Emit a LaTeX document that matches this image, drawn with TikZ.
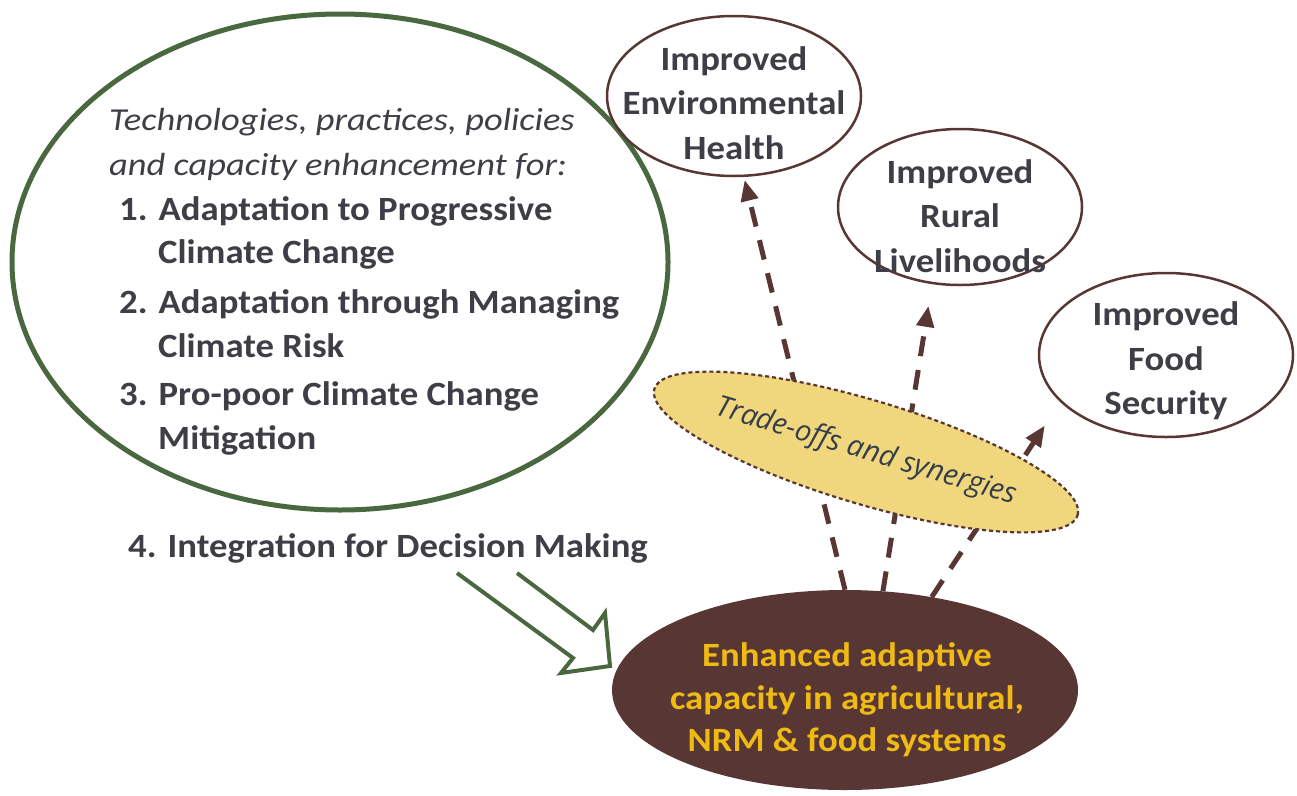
\documentclass[tikz,border=0pt]{standalone}
\usepackage{fontspec}
\setmainfont{Carlito}[FakeStretch=1.08]
\newfontfamily\itfont{Carlito}[FakeStretch=1.14]
\newfontfamily\segoe{Open Sans}
\usetikzlibrary{shapes.geometric,arrows.meta}
\definecolor{grn}{RGB}{74,104,64}
\definecolor{brn}{RGB}{87,54,52}
\definecolor{goldtxt}{RGB}{240,186,20}
\definecolor{yel}{RGB}{240,214,124}
\definecolor{txt}{RGB}{62,62,70}
\definecolor{txtb}{RGB}{52,62,74}
\begin{document}
\begin{tikzpicture}[x=1pt,y=-1pt,
  outc/.style={ellipse, draw=brn, line width=2.5pt, inner sep=0pt},
  outt/.style={align=center, text=txt, inner sep=0pt, font=\bfseries\fontsize{34}{44.5}\selectfont},
  flow/.style={brn, line width=5pt, dash pattern=on 20pt off 14pt, -{Triangle[length=21pt,width=17pt]}},
  itl/.style={anchor=base west, inner sep=0pt, text=txt, font=\itfont\itshape\fontsize{32}{44}\selectfont},
  bld/.style={anchor=base west, inner sep=0pt, text=txt, font=\bfseries\fontsize{34}{44}\selectfont}
]
\useasboundingbox (0,0) rectangle (1297,795);

% big green ellipse
\node[ellipse, draw=grn, line width=5pt, minimum width=656pt, minimum height=496pt, inner sep=0pt] (tech) at (340,262) {};
\node[itl] (t1) at (109,130) {Technologies, practices, policies};
\node[itl] (t2) at (109,175) {and capacity enhancement for:};
\node[bld] (i1) at (119,220) {1. Adaptation to Progressive};
\node[bld] (i1b) at (158,263) {Climate Change};
\node[bld] (i2) at (119,313) {2. Adaptation through Managing};
\node[bld] (i2b) at (158,357) {Climate Risk};
\node[bld] (i3) at (119,405) {3. Pro-poor Climate Change};
\node[bld] (i3b) at (158,449) {Mitigation};
\node[bld] (i4) at (128,557) {4. Integration for Decision Making};

% outcome ellipses
\node[outc, minimum width=254pt, minimum height=160pt] (env) at (734,96) {};
\node[outc, minimum width=244pt, minimum height=156pt] (rur) at (960,207) {};
\node[outc, minimum width=254pt, minimum height=164pt] (food) at (1166,355) {};
\node[outt] (envt) at (734,103) {Improved\\Environmental\\Health};
\node[outt] (rurt) at (960,216) {Improved\\Rural\\Livelihoods};
\node[outt] (foodt) at (1166,361) {Improved\\Food\\Security};

% bottom ellipse
\node[ellipse, fill=brn, minimum width=466pt, minimum height=200pt, inner sep=0pt] (bot) at (845,690) {};
\node[align=center, inner sep=0pt, text=goldtxt, font=\bfseries\fontsize{34}{42.5}\selectfont] (bott) at (847,700)
  {Enhanced adaptive\\capacity in agricultural,\\NRM \& food systems};

% dashed arrows
\draw[flow, shorten >=3pt] (bot.90) -- (env.277);
\draw[flow, shorten >=22pt] (bot.69) -- (rur.250);
\draw[flow, shorten >=28pt] (bot.47) -- (food.204);

% trade-offs ellipse
\node[ellipse, rotate=-16.6, fill=yel, draw=brn, line width=2.2pt, dash pattern=on 4pt off 3pt,
  minimum width=400pt, minimum height=104pt, inner sep=0pt, text=txtb,
  font=\segoe\itshape\fontsize{29}{32}\selectfont] (trade) at (866,452) {Trade-offs and synergies};

% green block arrow
\draw[grn, line width=4pt, line join=miter] (457,573) -- (573,658) -- (561,673) -- (610,666) -- (605,613) -- (593,630) -- (517,573);
\end{tikzpicture}
\end{document}
